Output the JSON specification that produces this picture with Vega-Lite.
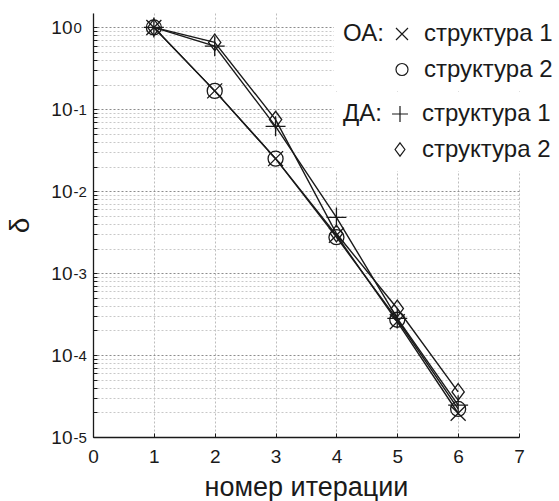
{
  "$schema": "https://vega.github.io/schema/vega-lite/v6.json",
  "width": 426,
  "height": 424,
  "autosize": {"type": "none"},
  "padding": {"left": 93, "top": 13, "right": 40, "bottom": 64},
  "background": "white",
  "config": {"view": {"stroke": null}, "font": "Liberation Sans"},
  "data": {
    "values": [
      {"iter": 1, "delta": 1.0, "method": "ОА", "struct": "структура 1", "series": "ОА1"},
      {"iter": 2, "delta": 0.168, "method": "ОА", "struct": "структура 1", "series": "ОА1"},
      {"iter": 3, "delta": 0.025, "method": "ОА", "struct": "структура 1", "series": "ОА1"},
      {"iter": 4, "delta": 0.0029, "method": "ОА", "struct": "структура 1", "series": "ОА1"},
      {"iter": 5, "delta": 0.000255, "method": "ОА", "struct": "структура 1", "series": "ОА1"},
      {"iter": 6, "delta": 0.0000195, "method": "ОА", "struct": "структура 1", "series": "ОА1"},
      {"iter": 1, "delta": 1.0, "method": "ОА", "struct": "структура 2", "series": "ОА2"},
      {"iter": 2, "delta": 0.168, "method": "ОА", "struct": "структура 2", "series": "ОА2"},
      {"iter": 3, "delta": 0.025, "method": "ОА", "struct": "структура 2", "series": "ОА2"},
      {"iter": 4, "delta": 0.00275, "method": "ОА", "struct": "структура 2", "series": "ОА2"},
      {"iter": 5, "delta": 0.00027, "method": "ОА", "struct": "структура 2", "series": "ОА2"},
      {"iter": 6, "delta": 0.000022, "method": "ОА", "struct": "структура 2", "series": "ОА2"},
      {"iter": 1, "delta": 1.0, "method": "ДА", "struct": "структура 1", "series": "ДА1"},
      {"iter": 2, "delta": 0.59, "method": "ДА", "struct": "структура 1", "series": "ДА1"},
      {"iter": 3, "delta": 0.062, "method": "ДА", "struct": "структура 1", "series": "ДА1"},
      {"iter": 4, "delta": 0.0048, "method": "ДА", "struct": "структура 1", "series": "ДА1"},
      {"iter": 5, "delta": 0.00028, "method": "ДА", "struct": "структура 1", "series": "ДА1"},
      {"iter": 6, "delta": 0.0000245, "method": "ДА", "struct": "структура 1", "series": "ДА1"},
      {"iter": 1, "delta": 1.0, "method": "ДА", "struct": "структура 2", "series": "ДА2"},
      {"iter": 2, "delta": 0.656, "method": "ДА", "struct": "структура 2", "series": "ДА2"},
      {"iter": 3, "delta": 0.075, "method": "ДА", "struct": "структура 2", "series": "ДА2"},
      {"iter": 4, "delta": 0.00305, "method": "ДА", "struct": "структура 2", "series": "ДА2"},
      {"iter": 5, "delta": 0.00037, "method": "ДА", "struct": "структура 2", "series": "ДА2"},
      {"iter": 6, "delta": 0.0000355, "method": "ДА", "struct": "структура 2", "series": "ДА2"}
    ]
  },
  "encoding": {
    "x": {
      "field": "iter",
      "type": "quantitative",
      "scale": {"domain": [0, 7], "nice": false, "zero": false},
      "axis": {
        "values": [0, 1, 2, 3, 4, 5, 6, 7],
        "title": "номер итерации",
        "titleFontSize": 27,
        "titleFontWeight": "normal",
        "titleColor": "#1a1a1a",
        "titlePadding": 8,
        "labelFontSize": 19,
        "labelColor": "#1a1a1a",
        "labelPadding": 14,
        "labelFlush": false,
        "labelOverlap": false,
        "grid": true,
        "gridColor": "#bdbdbd",
        "gridDash": [2, 2],
        "ticks": true,
        "tickSize": -4,
        "tickColor": "#1a1a1a",
        "domain": true,
        "domainColor": "#1a1a1a",
        "domainWidth": 1.3
      }
    }
  },
  "layer": [
    {
      "mark": {"type": "line", "color": "#1a1a1a", "strokeWidth": 1.4},
      "encoding": {
        "detail": {"field": "series"},
        "y": {
          "field": "delta",
          "type": "quantitative",
          "scale": {"type": "log", "domain": [0.00001, 1.5], "nice": false},
          "axis": {
            "orient": "left",
            "values": [0.00001, 0.00002, 0.00003, 0.00004, 0.00005, 0.00006, 0.00007, 0.00008, 0.00009,
                       0.0001, 0.0002, 0.0003, 0.0004, 0.0005, 0.0006, 0.0007, 0.0008, 0.0009,
                       0.001, 0.002, 0.003, 0.004, 0.005, 0.006, 0.007, 0.008, 0.009,
                       0.01, 0.02, 0.03, 0.04, 0.05, 0.06, 0.07, 0.08, 0.09,
                       0.1, 0.2, 0.3, 0.4, 0.5, 0.6, 0.7, 0.8, 0.9, 1],
            "labelExpr": "abs(log(datum.value)/LN10 - round(log(datum.value)/LN10)) < 0.000001 ? '10' : ''",
            "labelFontSize": 19,
            "labelColor": "#1a1a1a",
            "labelPadding": 25,
            "labelOverlap": false,
            "labelBaseline": "middle",
            "grid": true,
            "gridColor": {"condition": {"test": "abs(log(datum.value)/LN10 - round(log(datum.value)/LN10)) < 0.000001", "value": "#8c8c8c"}, "value": "#c8c8c8"},
            "gridDash": [2, 2],
            "ticks": true,
            "tickSize": -4,
            "tickColor": "#1a1a1a",
            "domain": true,
            "domainColor": "#1a1a1a",
            "domainWidth": 1.3,
            "title": "δ",
            "titleFontSize": 28,
            "titleFontWeight": "normal",
            "titleColor": "#1a1a1a",
            "titlePadding": 16
          }
        }
      }
    },
    {
      "transform": [{"filter": "datum.method === 'ОА'"}],
      "mark": {"type": "point", "filled": false, "color": "#1a1a1a", "strokeWidth": 1.3, "size": 225, "opacity": 1},
      "encoding": {
        "y": {
          "field": "delta",
          "type": "quantitative",
          "axis": {
            "orient": "left",
            "values": [0.00001, 0.0001, 0.001, 0.01, 0.1, 1],
            "labelExpr": "'' + round(log(datum.value)/LN10)",
            "labelAlign": "left",
            "labelBaseline": "middle",
            "labelPadding": 20,
            "labelDy": -7,
            "labelFontSize": 15,
            "labelColor": "#1a1a1a",
            "labelOverlap": false,
            "ticks": false,
            "domain": false,
            "grid": false,
            "title": null
          }
        },
        "shape": {
          "field": "struct",
          "type": "nominal",
          "scale": {"domain": ["структура 1", "структура 2"], "range": ["M-1,-1L1,1M-1,1L1,-1", "circle"]},
          "legend": {
            "title": "ОА:",
            "orient": "none",
            "legendX": 241,
            "legendY": 0,
            "titleOrient": "left",
            "titleAnchor": "start",
            "titleBaseline": "top",
            "titleFontSize": 24,
            "titleFontWeight": "normal",
            "titleColor": "#1a1a1a",
            "titlePadding": 6,
            "labelFontSize": 24,
            "labelColor": "#1a1a1a",
            "labelOffset": 10,
            "labelLimit": 300,
            "symbolSize": 144,
            "symbolStrokeColor": "#1a1a1a",
            "symbolStrokeWidth": 1.2,
            "symbolFillColor": "transparent",
            "rowPadding": 11.5,
            "padding": 9,
            "fillColor": "white"
          }
        }
      }
    },
    {
      "transform": [{"filter": "datum.method === 'ДА'"}],
      "mark": {"type": "point", "filled": false, "color": "#1a1a1a", "strokeWidth": 1.3, "size": 225, "opacity": 1},
      "encoding": {
        "y": {"field": "delta", "type": "quantitative", "axis": null},
        "shape": {
          "field": "struct",
          "type": "nominal",
          "scale": {"domain": ["структура 1", "структура 2"], "range": ["M-1.33,0L1.33,0M0,-1.33L0,1.33", "M0,-1.11L0.82,0L0,1.11L-0.82,0Z"]},
          "legend": {
            "title": "ДА:",
            "orient": "none",
            "legendX": 241,
            "legendY": 80,
            "titleOrient": "left",
            "titleAnchor": "start",
            "titleBaseline": "top",
            "titleFontSize": 24,
            "titleFontWeight": "normal",
            "titleColor": "#1a1a1a",
            "titlePadding": 6,
            "labelFontSize": 24,
            "labelColor": "#1a1a1a",
            "labelOffset": 10,
            "labelLimit": 300,
            "symbolSize": 144,
            "symbolStrokeColor": "#1a1a1a",
            "symbolStrokeWidth": 1.2,
            "symbolFillColor": "transparent",
            "rowPadding": 11.5,
            "padding": 9,
            "fillColor": "white"
          }
        }
      }
    }
  ],
  "resolve": {
    "scale": {"shape": "independent"},
    "axis": {"y": "independent"},
    "legend": {"shape": "independent"}
  }
}
